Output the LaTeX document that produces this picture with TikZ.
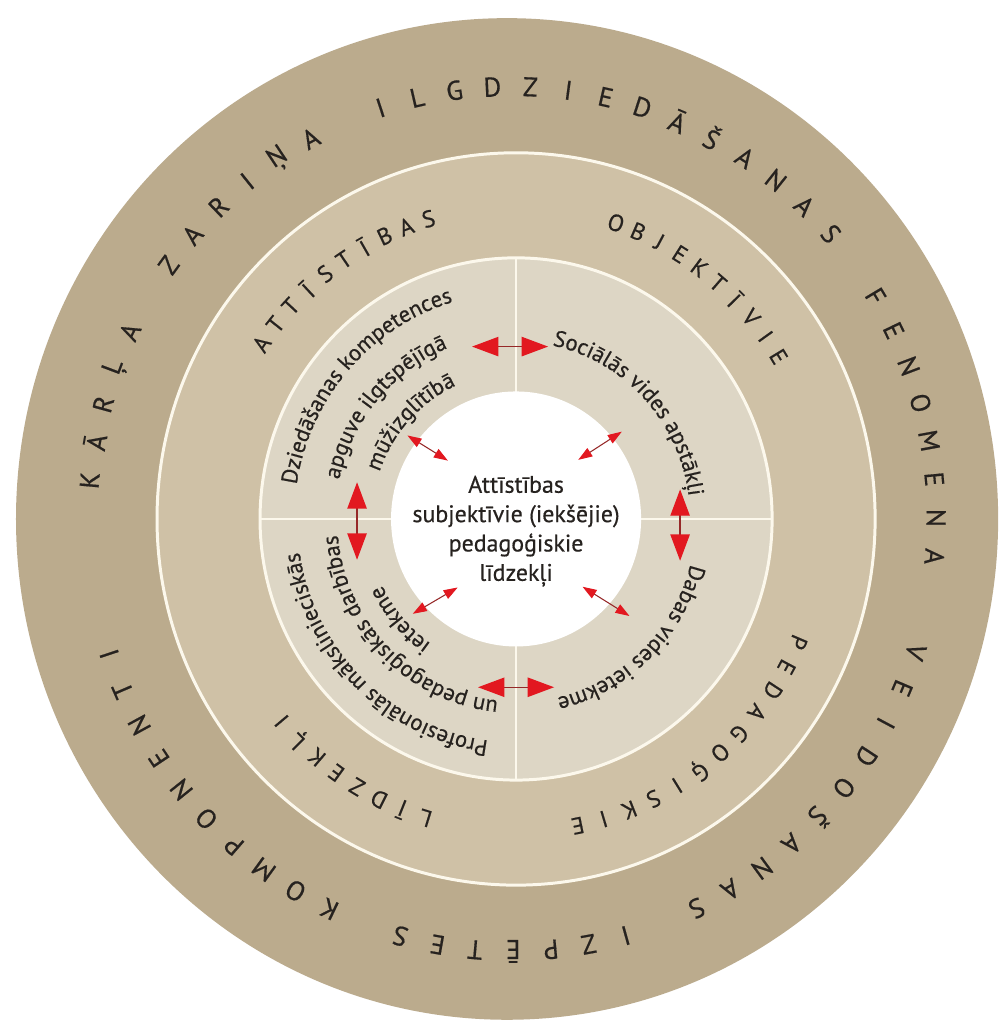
\documentclass[tikz,border=0pt]{standalone}
\usepackage{fontspec}
\setmainfont{PT Sans}[FakeBold=0.5]
\usetikzlibrary{arrows.meta, decorations.text}

\definecolor{ringout}{RGB}{187,171,141}
\definecolor{ringmid}{RGB}{207,193,166}
\definecolor{ringin}{RGB}{221,214,197}
\definecolor{seam}{RGB}{252,248,236}
\definecolor{ink}{RGB}{38,34,31}
\definecolor{tipred}{RGB}{226,24,32}
\definecolor{shaft}{RGB}{150,40,40}

\newcommand{\capsfont}{\fontsize{15.4}{16}\selectfont}
\newcommand{\midfont}{\fontsize{13.4}{14}\selectfont}
\newcommand{\innerfont}{\fontsize{12.9}{13}\selectfont}

% spaced capitals round a ring: style, name, radius, first angle, step, letters
\newcommand{\ringword}[6]{%
  \foreach \ch [count=\idx from 0] in {#6}
    \node[#1, rotate={#4-\idx*#5-90}] (#2-\idx) at ({#4-\idx*#5}:#3) {\ch};}

% one line of running text on an arc: radius, middle angle, text
\newcommand{\arcline}[3]{%
  \path[decorate, decoration={text along path, text align=center, text color=ink,
      text={|\innerfont|#3}}]
    ({#2+80}:#1) arc[start angle={#2+80}, end angle={#2-80}, radius=#1];}

\begin{document}
\begin{tikzpicture}[x=0.02cm, y=0.0204cm,
    seam/.style={draw=seam, line width=1.7pt},
    outcap/.style={font=\capsfont, text=ink, inner sep=0pt},
    midcap/.style={font=\midfont, text=ink, inner sep=0pt},
    core/.style={align=center, font=\fontsize{13.6}{16.7}\selectfont, text=ink},
    twin/.style={draw=shaft, line width=0.6pt,
      {Triangle[length=8pt,width=5.5pt,color=tipred]}-{Triangle[length=8pt,width=5.5pt,color=tipred]}},
    bigtwin/.style={draw=shaft, line width=0.8pt,
      {Triangle[length=15pt,width=11pt,color=tipred]}-{Triangle[length=15pt,width=11pt,color=tipred]}}]
  \useasboundingbox (-516,-497.1) rectangle (486,508.8);

  % rings
  \fill[ringout] (-9,0) circle[radius=491];
  \fill[ringmid] (0,0) circle[radius=359];
  \draw[seam] (0,0) circle[radius=359];
  \fill[ringin] (0,0) circle[radius=256];
  \draw[seam] (0,0) circle[radius=256];
  \draw[seam, line width=1.1pt] (0,256) -- (0,-256) (-256,0) -- (256,0);
  \fill[white] (0,0) circle[radius=125];

  % outer ring
  \begin{scope}[shift={(-4,0)}]
    \ringword{outcap}{top}{424}{174.9}{5.14}{K,Ā,R,Ļ,A,{},Z,A,R,I,Ņ,A,{},I,L,G,D,Z,I,E,D,Ā,Š,A,N,A,S,{},F,E,N,O,M,E,N,A}
    \ringword{outcap}{bot}{424}{-17.9}{5.14}{V,E,I,D,O,Š,A,N,A,S,{},I,Z,P,Ē,T,E,S,{},K,O,M,P,O,N,E,N,T,I}
  \end{scope}

  % middle ring
  \ringword{midcap}{att}{307}{146}{4.38}{A,T,T,Ī,S,T,Ī,B,A,S}
  \ringword{midcap}{obj}{307}{71}{4.42}{O,B,J,E,K,T,Ī,V,I,E}
  \ringword{midcap}{ped}{307}{-23.2}{5.02}{P,E,D,A,G,O,Ģ,I,S,K,I,E}
  \ringword{midcap}{lid}{307}{-107.2}{4.66}{L,Ī,D,Z,E,K,Ļ,I}

  % inner ring
  \arcline{222}{138.5}{Dziedāšanas kompetences}
  \arcline{181}{139.5}{apguve ilgtspējīgā}
  \arcline{144}{137.5}{mūžizglītībā}
  \arcline{174}{43}{Sociālās vides apstākļi}
  \arcline{180}{-46}{Dabas vides ietekme}
  \arcline{219}{-134}{Profesionālās mākslinieciskās}
  \arcline{179}{-135}{un pedagoģiskās darbības}
  \arcline{149}{-139}{ietekme}

  \node[core] (core) at (0,-12) {Attīstības\\subjektīvie (iekšējie)\\pedagoģiskie\\līdzekļi};

  % links
  \foreach \cx/\cy/\hx/\hy [count=\i] in {-6/169/38/0, 164/-6/0/35, 0/-165/38/0, -159/-2/0/38}{
    \coordinate (lnk\i-a) at (\cx-\hx,\cy-\hy);
    \coordinate (lnk\i-b) at (\cx+\hx,\cy+\hy);
    \draw[bigtwin] (lnk\i-a) -- (lnk\i-b);
  }
  \foreach \ai/\ri/\ao/\ro [count=\i] in {140/89/143/136, 43/85/39/136, -131/89/-138/139, -45/94/-40/148}{
    \coordinate (tie\i-a) at (\ai:\ri);
    \coordinate (tie\i-b) at (\ao:\ro);
    \draw[twin] (tie\i-a) -- (tie\i-b);
  }
\end{tikzpicture}
\end{document}
